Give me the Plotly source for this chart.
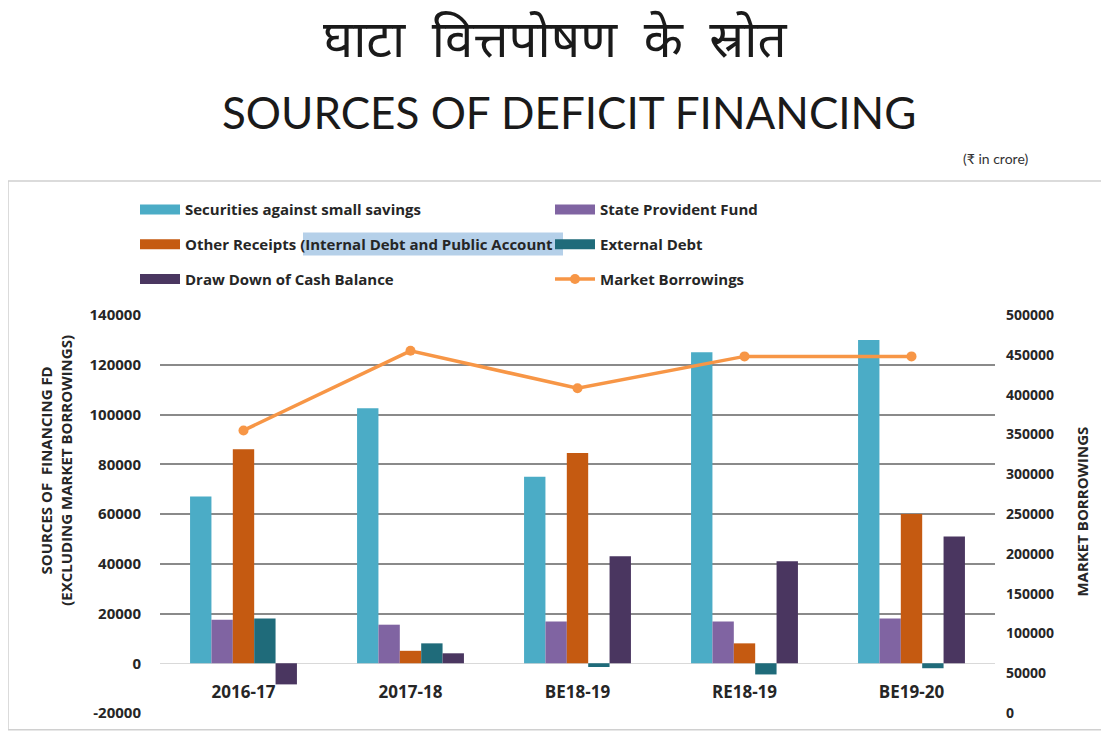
import plotly.graph_objects as go

categories = ["2016-17", "2017-18", "BE18-19", "RE18-19", "BE19-20"]
securities = [67000, 102500, 75000, 125000, 130000]
state_pf = [17500, 15500, 16800, 16800, 18000]
other_receipts = [86000, 5000, 84500, 8000, 60000]
external_debt = [18000, 8000, -1500, -4500, -2000]
draw_down = [-8500, 4000, 43000, 41000, 51000]
market_borrowings = [355000, 455000, 408000, 448000, 448000]

left_ticks = list(range(-20000, 140001, 20000))
left_labels = [str(v) for v in left_ticks]
right_ticks = list(range(0, 500001, 50000))
right_labels = [str(v) for v in right_ticks]

# page is shown with an 8px body margin, so the figure is 8px smaller
OFF = 8
W, H = 1109 - OFF, 734 - OFF
# plot area in page pixels: x 160..995, y 315..716
L, R, T, B = 160 - OFF, 1109 - 995, 315 - OFF, 734 - 716
PH = 716 - 315
PW = 995 - 160

def py(p):  # page pixel y -> paper
    return (716 - p) / PH

def px(p):  # page pixel x -> paper
    return (p - 160) / PW

FONT = "Lato, 'Open Sans', 'Noto Sans', sans-serif"
BFONT = "'Open Sans', Lato, sans-serif"
TXT = "#262626"

names = ["Securities against small savings", "State Provident Fund",
         "Other Receipts (Internal Debt and Public Account", "External Debt",
         "Draw Down of Cash Balance"]
series = [securities, state_pf, other_receipts, external_debt, draw_down]
colors = ["#4BACC6", "#8064A2", "#C55A11", "#1F6B7A", "#4A3660"]
legends = ["legend", "legend", "legend2", "legend2", "legend3"]

fig = go.Figure()
for name, vals, col in zip(names, series, colors):
    fig.add_trace(go.Bar(x=categories, y=vals, name=name, marker_color=col,
                         marker_line_width=0, showlegend=False))

# legend entries (wide swatches like the original)
for name, col, lg in zip(names, colors, legends):
    fig.add_trace(go.Scatter(x=[None], y=[None], name=name, mode="lines",
                             line=dict(color=col, width=10), legend=lg))

fig.add_trace(go.Scatter(x=categories, y=market_borrowings, name="Market Borrowings",
                         mode="lines+markers", yaxis="y2", legend="legend3",
                         line=dict(color="#F79646", width=3.5),
                         marker=dict(color="#F79646", size=10)))

legend_common = dict(orientation="h", xanchor="left", yanchor="middle",
                     x=px(135), entrywidth=360, entrywidthmode="pixels",
                     font=dict(family=BFONT, size=15, color=TXT, weight="bold"),
                     bgcolor="rgba(0,0,0,0)", itemwidth=40)

fig.update_layout(
    width=W, height=H,
    margin=dict(l=L, r=R, t=T, b=B),
    paper_bgcolor="white", plot_bgcolor="white",
    barmode="group", bargap=0.36, bargroupgap=0,
    showlegend=True,
    legend=dict(**legend_common, y=py(209)),
    legend2=dict(**legend_common, y=py(244)),
    legend3=dict(**legend_common, y=py(279)),
    xaxis=dict(anchor="free", position=py(683), showline=False, showgrid=False,
               ticks="", tickfont=dict(family=BFONT, size=17, color=TXT, weight="bold"),
               categoryorder="array", categoryarray=categories),
    yaxis=dict(range=[-20000, 140000], tickvals=left_ticks, ticktext=left_labels,
               showgrid=True, gridcolor="#8a8a8a", gridwidth=1.6, zeroline=True,
               zerolinecolor="#d9d9d9", zerolinewidth=1.2,
               ticklabelstandoff=18,
               tickfont=dict(family=BFONT, size=15, color=TXT, weight="bold")),
    yaxis2=dict(range=[0, 500000], tickvals=right_ticks, ticktext=right_labels,
                overlaying="y", side="right",
                showgrid=False, zeroline=False, ticklabelstandoff=10,
                tickfont=dict(family=BFONT, size=14, color=TXT, weight="bold")),
    shapes=[
        dict(type="rect", xref="paper", yref="paper", x0=px(8), x1=px(1107),
             y0=py(733), y1=py(180), line=dict(color="#d0d0d0", width=1.5),
             fillcolor="rgba(0,0,0,0)", layer="below"),
        dict(type="rect", xref="paper", yref="paper", x0=px(303), x1=px(563),
             y0=py(255), y1=py(232), line=dict(width=0),
             fillcolor="rgba(120,170,215,0.55)", layer="above"),
    ],
    annotations=[
        dict(text="घाटा\u00a0 वित्तपोषण\u00a0 के\u00a0 स्रोत", xref="paper", yref="paper",
             x=px(555), y=py(42), xanchor="center", yanchor="middle", showarrow=False,
             font=dict(family="'Noto Sans Devanagari', 'Noto Sans', Lato, sans-serif",
                       size=51, color="#1a1a1a")),
        dict(text="SOURCES OF DEFICIT FINANCING", xref="paper", yref="paper",
             x=px(569), y=py(110), xanchor="center", yanchor="middle", showarrow=False,
             font=dict(family=FONT, size=44, color="#1a1a1a")),
        dict(text="(₹ in crore)", xref="paper", yref="paper",
             x=px(1030), y=py(157), xanchor="right", yanchor="middle", showarrow=False,
             font=dict(family=FONT, size=14, color="#333333")),
        dict(text="SOURCES OF  FINANCING FD<br>(EXCLUDING MARKET BORROWINGS)",
             xref="paper", yref="paper", x=px(56), y=py(472), textangle=-90,
             xanchor="center", yanchor="middle", showarrow=False,
             font=dict(family=BFONT, size=15, color=TXT, weight="bold")),
        dict(text="MARKET BORROWINGS",
             xref="paper", yref="paper", x=px(1082), y=py(513), textangle=-90,
             xanchor="center", yanchor="middle", showarrow=False,
             font=dict(family=BFONT, size=15, color=TXT, weight="bold")),
    ],
)

fig.write_html("out.html")
